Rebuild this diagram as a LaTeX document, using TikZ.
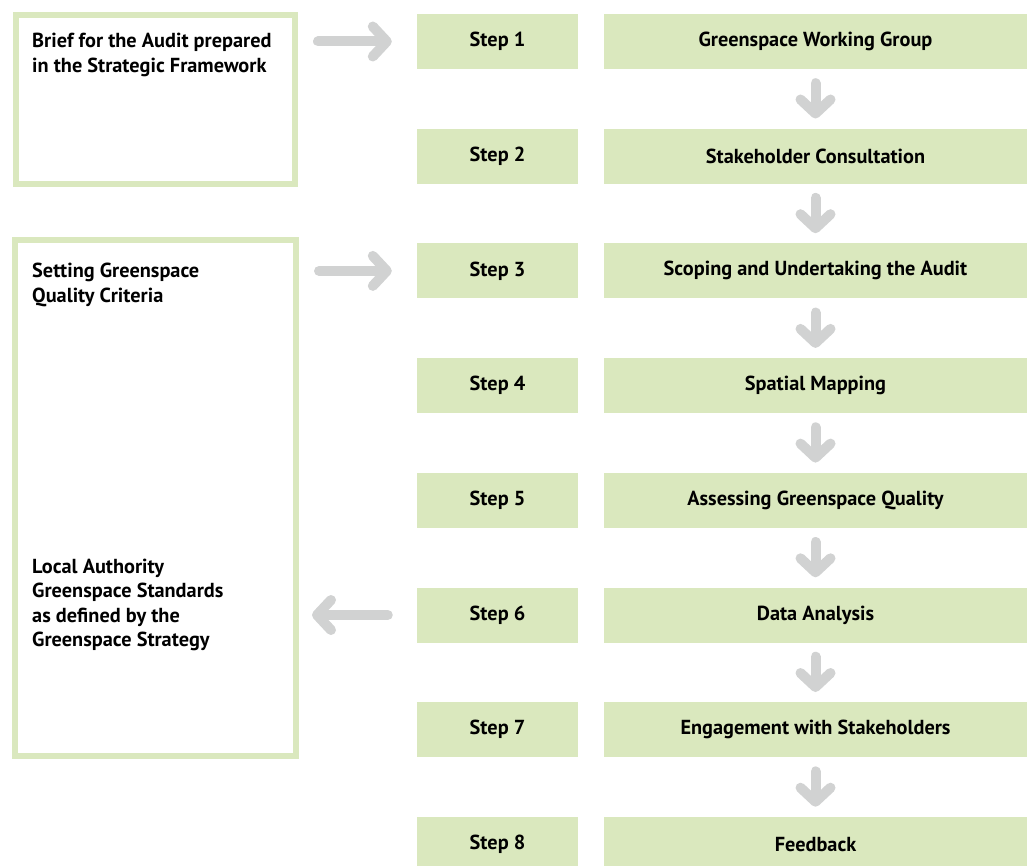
\documentclass[tikz,border=0pt]{standalone}
\usepackage{fontspec}
\setmainfont{PT Sans}
\usetikzlibrary{arrows.meta}

\definecolor{leaf}{RGB}{218,232,190}
\definecolor{arrowgrey}{RGB}{209,210,210}

\tikzset{
  label font/.style={font=\bfseries\fontsize{20.3}{24.5}\selectfont},
  stepbox/.style={rectangle, fill=leaf, inner sep=0pt, minimum width=161pt, minimum height=55pt, label font},
  taskbox/.style={rectangle, fill=leaf, inner sep=0pt, minimum width=423pt, minimum height=55pt, label font},
  framebox/.style={rectangle, draw=leaf, line width=6pt, inner sep=0pt},
  % multi-line text: the base anchor sits on the last line
  boxtext/.style={anchor=base west, align=left, inner sep=0pt, label font},
  flow/.style={draw=arrowgrey, line width=10pt, line cap=round,
               -{Straight Barb[length=14pt, width=30pt, round]}},
}

\begin{document}
\begin{tikzpicture}[x=1pt, y=-1pt]
  \useasboundingbox (0,0) rectangle (1027,866);
  \clip (0,0) rectangle (1027,866);

  % step labels and tasks, one row every 114.7
  \foreach \i/\task in {1/Greenspace Working Group,
                        2/Stakeholder Consultation,
                        3/Scoping and Undertaking the Audit,
                        4/Spatial Mapping,
                        5/Assessing Greenspace Quality,
                        6/Data Analysis,
                        7/Engagement with Stakeholders,
                        8/Feedback}{
    \pgfmathsetmacro{\yc}{41.5 + (\i-1)*114.7}
    \node[stepbox] (s\i) at (497.5, \yc) {Step \i};
    \node[taskbox] (g\i) at (815.5, \yc) {\task};
  }

  % framed source boxes on the left
  \node[framebox, minimum width=279pt, minimum height=169pt] (b1) at (155.5, 99.5) {};
  \node[framebox, minimum width=281pt, minimum height=516pt] (b2) at (155.5, 498) {};

  \node[boxtext] (t1) at (32, 72.5) {Brief for the Audit prepared\\in the Strategic Framework};
  \node[boxtext] (t2) at (32, 302) {Setting Greenspace\\Quality Criteria};
  \node[boxtext] (t3) at (32, 646.5) {Local Authority\\Greenspace Standards\\as defined by the\\Greenspace Strategy};

  % inputs and output
  \draw[flow, shorten <=20pt, shorten >=25pt] (b1.east |- s1.west) -- (s1.west);
  \draw[flow, shorten <=20pt, shorten >=25pt] (b2.east |- s3.west) -- (s3.west);
  \draw[flow, shorten <=29pt, shorten >=13pt] (s6.west) -- (b2.east |- s6.west);

  % sequence of tasks
  \foreach \i [evaluate=\i as \j using int(\i+1)] in {1,...,7}{
    \draw[flow, shorten <=14pt, shorten >=10pt] (g\i.south) -- (g\j.north);
  }
\end{tikzpicture}
\end{document}
